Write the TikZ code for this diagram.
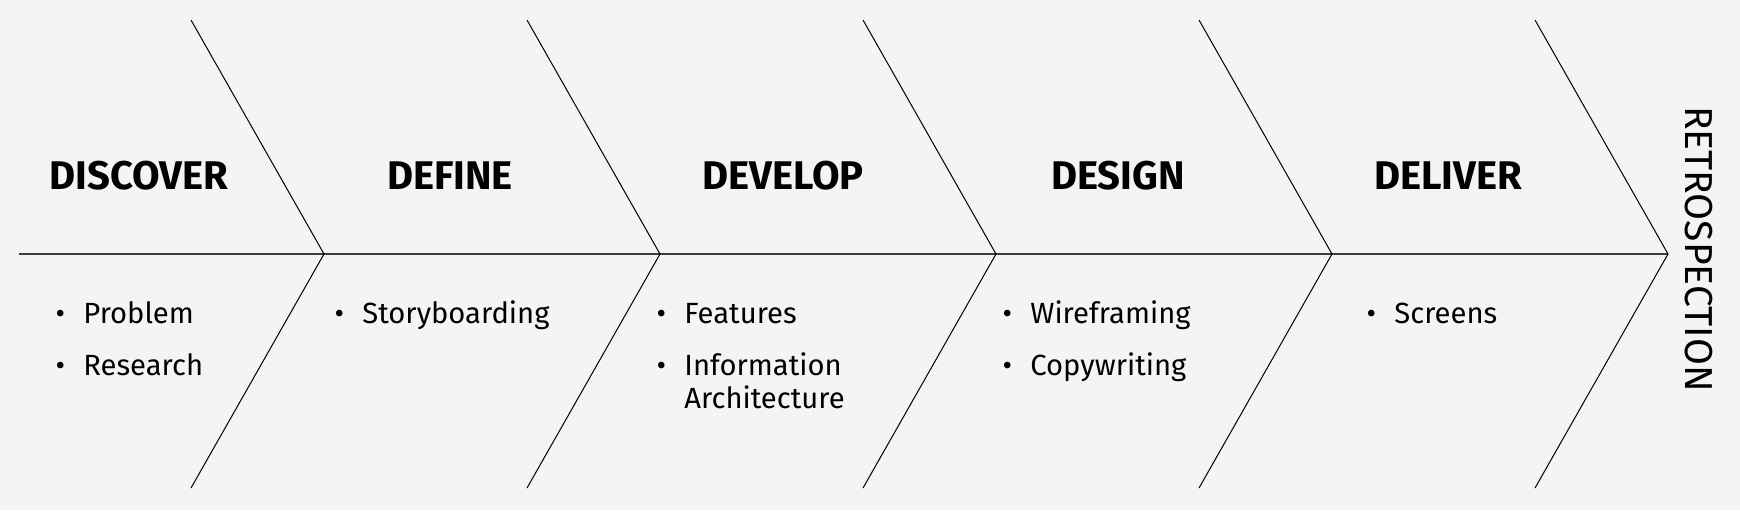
\documentclass[tikz,border=0pt]{standalone}
\usepackage{fontspec}
\setmainfont{Fira Sans}
\usepackage{xcolor}
\definecolor{paper}{HTML}{F4F4F4}
\definecolor{spinegray}{HTML}{404040}
\newcommand{\bul}{\makebox[0pt][r]{\makebox[0pt]{•}\hspace{11.5pt}}}
\tikzset{
  phase/.style={anchor=base, inner sep=0pt, font=\bfseries\fontsize{20}{24}\selectfont},
  item/.style={anchor=base west, inner sep=0pt, font=\fontsize{14.6}{17}\selectfont},
  bone/.style={line width=0.5pt, black},
  spine/.style={line width=0.75pt, spinegray}
}
\begin{document}
\begin{tikzpicture}[x=0.5pt,y=0.5pt,yscale=-1,xscale=1]
% background, sets the diagram size
\fill[paper] (0,0) rectangle (1740,510);

% spine points
\coordinate (tail) at (19,254);
\foreach \i/\x in {1/324,2/660,3/996,4/1332,5/1668}{
  \coordinate (v\i) at (\x,254);
  \coordinate (t\i) at (\x-133,20);
  \coordinate (b\i) at (\x-133,488);
}

% Spine
\draw[spine] (tail) -- (v1) -- (v2) -- (v3) -- (v4) -- (v5);
% Bones
\foreach \i in {1,...,5}{
  \draw[bone] (t\i) -- (v\i) -- (b\i);
}

% Phase titles
\node[phase] (discover) at (139,189) {DISCOVER};
\node[phase] (define) at (450,189) {DEFINE};
\node[phase] (develop) at (783,189) {DEVELOP};
\node[phase] (design) at (1118,189) {DESIGN};
\node[phase] (deliver) at (1448,189) {DELIVER};

% Items
\node[item] (problem) at (83,323) {\bul Problem};
\node[item] (research) at (83,375) {\bul Research};
\node[item] (story) at (362,323) {\bul Storyboarding};
\node[item] (features) at (684,323) {\bul Features};
\node[item] (info) at (684,375) {\bul Information};
\node[item] (arch) at (684,408) {Architecture};
\node[item] (wire) at (1030,323) {\bul Wireframing};
\node[item] (copy) at (1030,375) {\bul Copywriting};
\node[item] (screens) at (1394,323) {\bul Screens};

% Retrospection
\node[rotate=-90, inner sep=0pt, font=\fontsize{19.5}{23}\selectfont] (retro) at (1699,249) {RETROSPECTION};

\end{tikzpicture}
\end{document}
